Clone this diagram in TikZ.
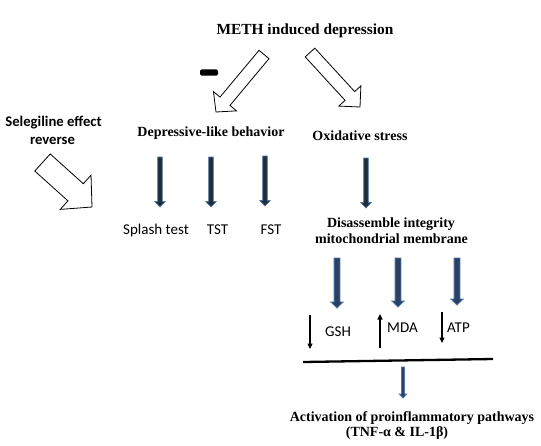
\documentclass[tikz,border=0pt]{standalone}
\usepackage{fontspec}
\setmainfont{Liberation Serif}
\newfontfamily\calib{Carlito}
\usetikzlibrary{calc,arrows.meta}
\definecolor{arrdark}{HTML}{1F2C3C}
\definecolor{arredge}{HTML}{4D76A4}
\definecolor{arrmid}{HTML}{2A4163}
\tikzset{
  hollow/.style={draw=black, fill=white, line width=0.8pt, line join=miter},
  darkarr/.style={fill=arrdark, draw=arredge, line width=0.7pt},
  bluearr/.style={fill=arrmid, draw=arredge, line width=0.8pt},
  serlab/.style={font=\fontsize{14}{16}\selectfont\bfseries, inner sep=0pt, anchor=base, align=center},
  sanlab/.style={font=\calib\fontsize{15}{17}\selectfont, inner sep=0pt, anchor=base},
  thinarr/.style={line width=1.1pt, -{Triangle[length=5.5pt,width=5pt]}},
}
% hollow block arrow: #1 start, #2 tip, #3 half shaft, #4 half head, #5 head length
\newcommand{\hollowarrow}[5]{%
  \coordinate (ha-s) at #1; \coordinate (ha-t) at #2;
  \coordinate (ha-h) at ($(ha-t)!#5!(ha-s)$);
  \draw[hollow] ($(ha-s)!#3!90:(ha-t)$) -- ($(ha-h)!#3!90:(ha-t)$) -- ($(ha-h)!#4!90:(ha-t)$)
     -- (ha-t) -- ($(ha-h)!#4!-90:(ha-t)$) -- ($(ha-h)!#3!-90:(ha-t)$) -- ($(ha-s)!#3!-90:(ha-t)$) -- cycle;}
% vertical arrow: #1 style, #2 x, #3 top y, #4 tip y, #5 half shaft, #6 half head, #7 head length
\newcommand{\varrow}[7]{%
  \draw[#1] (#2-#5,#3) -- (#2-#5,#4-#7) -- (#2-#6,#4-#7) -- (#2,#4) -- (#2+#6,#4-#7) -- (#2+#5,#4-#7) -- (#2+#5,#3) -- cycle;}
\begin{document}
\begin{tikzpicture}[x=1pt,y=-1pt]
\useasboundingbox (0,0) rectangle (541,445);
% texts
\node[serlab, font=\fontsize{15.4}{18}\selectfont\bfseries] (title) at (305,34) {METH induced depression};
\node[serlab] (dep) at (211,136.5) {Depressive-like behavior};
\node[serlab] (ox) at (360,140.5) {Oxidative stress};
\node[serlab] (dis1) at (391,227.3) {Disassemble integrity};
\node[serlab] (dis2) at (391.5,243.3) {mitochondrial membrane};
\node[serlab] (act1) at (412,421.7) {Activation of proinflammatory pathways};
\node[serlab] (act2) at (397,436.7) {(TNF-α \& IL-1β)};
\node[sanlab, font=\calib\fontsize{14.7}{17}\selectfont\bfseries] (sel1) at (53.5,126.7) {Selegiline effect};
\node[sanlab, font=\calib\fontsize{14.7}{17}\selectfont\bfseries] (sel2) at (52.5,144.3) {reverse};
\node[sanlab] (splash) at (156,234.3) {Splash test};
\node[sanlab] (tst) at (217.5,234.3) {TST};
\node[sanlab] (fst) at (271,234.3) {FST};
\node[sanlab, anchor=base west] (gsh) at (325,336) {GSH};
\node[sanlab, anchor=base west] (mda) at (387,332) {MDA};
\node[sanlab, anchor=base west] (atp) at (447,332) {ATP};
% minus sign
\fill[rounded corners=1.5pt] (200,69.3) rectangle (218,75.5);
% hollow arrows
\hollowarrow{(264,54.5)}{(216,112)}{6.5pt}{15pt}{14pt}
\hollowarrow{(310,52.5)}{(360,107)}{6.5pt}{15pt}{15pt}
\hollowarrow{(42.5,162.5)}{(92,207)}{11.5pt}{23pt}{22pt}
% dark vertical arrows
\varrow{darkarr}{160}{157}{207}{2.3}{5.2}{5.5}
\varrow{darkarr}{211}{157}{207}{2.3}{5.2}{5.5}
\varrow{darkarr}{265}{156}{206}{2.3}{5.2}{5.5}
\varrow{darkarr}{366}{158}{208}{2.3}{5.2}{5.5}
\varrow{bluearr}{337}{258}{308}{2.9}{6.2}{6}
\varrow{bluearr}{398}{258}{307}{2.9}{6.2}{6}
\varrow{bluearr}{457}{258}{305}{2.9}{6.2}{6}
\varrow{bluearr}{403}{367}{398}{1.5}{3.8}{4}
% thin arrows
\coordinate (g1) at (310,315); \coordinate (g2) at (310,349);
\coordinate (m1) at (380,348); \coordinate (m2) at (380,314);
\coordinate (a1) at (442,312); \coordinate (a2) at (442,343);
\draw[thinarr] (g1) -- (g2);
\draw[thinarr] (m1) -- (m2);
\draw[thinarr] (a1) -- (a2);
% horizontal bar
\coordinate (bl) at (303,362); \coordinate (br) at (493,359);
\draw[line width=2.3pt] (bl) -- (br);
\end{tikzpicture}
\end{document}
